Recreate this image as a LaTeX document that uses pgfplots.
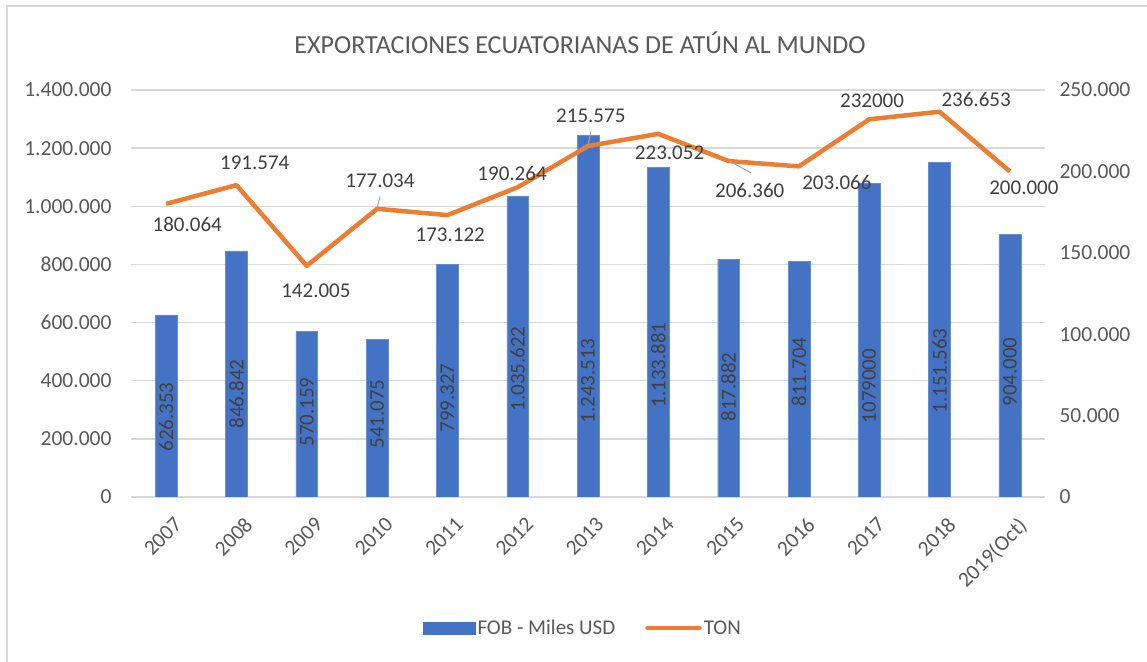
\documentclass[border=0pt]{standalone}
\usepackage{pgfplots}
\pgfplotsset{compat=1.18}
\usepackage{fontspec}
\setmainfont{Carlito}

\definecolor{fob}{HTML}{4472C4}
\definecolor{ton}{HTML}{ED7D31}
\definecolor{txtgray}{HTML}{595959}
\definecolor{lblgray}{HTML}{404040}
\definecolor{gridgray}{HTML}{D9D9D9}

% common frame of both axes, 1pt = 1px of the reference
\pgfplotsset{
  frame/.style={
    at={(131pt,164pt)}, anchor=south west,
    scale only axis, width=914pt, height=407pt,
    xmin=-0.5, xmax=12.5,
    major tick length=0pt,
    tick label style={font=\fontsize{21.5}{25}\selectfont, text=txtgray},
    /pgf/number format/assume math mode=true,
    scaled y ticks=false,
    /pgf/number format/fixed,
    /pgf/number format/precision=0,
    /pgf/number format/1000 sep={.},
  },
}

\begin{document}
\begin{tikzpicture}
\begin{axis}[
  frame,
  ymin=0, ymax=1400000,
  ytick={0,200000,400000,600000,800000,1000000,1200000,1400000},
  xtick={0,1,2,3,4,5,6,7,8,9,10,11,12},
  xticklabels={2007,2008,2009,2010,2011,2012,2013,2014,2015,2016,2017,2018,2019(Oct)},
  x tick label style={rotate=45, anchor=north east, yshift=-15pt, xshift=-5pt},
  y tick label style={xshift=-16pt},
  axis line style={draw=none},
  ymajorgrids, grid style={gridgray, line width=1.3pt},
]
% FOB - Miles USD
\addplot[ybar, bar width=0.31, fill=fob, draw=fob!80!white] coordinates {
  (0,626353) (1,846842) (2,570159) (3,541075) (4,799327) (5,1035622)
  (6,1243513) (7,1133881) (8,817882) (9,811704) (10,1079000) (11,1151563)
  (12,904000)};
% bar labels (position, text)
\addplot[draw=none, mark=none, nodes near coords, point meta=explicit symbolic,
  nodes near coords style={rotate=90, anchor=center, text=lblgray,
    font=\fontsize{21}{25}\selectfont}]
  table[meta=lbl] {
x y lbl
0 275200 626.353
1 354300 846.842
2 292400 570.159
3 285500 541.075
4 340500 799.327
5 440300 1.035.622
6 399000 1.243.513
7 454100 1.133.881
8 378400 817.882
9 430000 811.704
10 381800 1079000
11 433400 1.151.563
12 430000 904.000
};
\end{axis}

\begin{axis}[
  frame,
  ymin=0, ymax=250000,
  ytick={0,50000,100000,150000,200000,250000},
  axis y line*=right, axis x line=none,
  axis line style={draw=none},
  y tick label style={xshift=11pt},
  legend columns=2,
  legend style={at={(0.4945,-0.322)}, anchor=center, draw=none, fill=none,
    font=\fontsize{21}{25}\selectfont, text=txtgray,
    /tikz/every even column/.append style={column sep=28pt}},
]
\addlegendimage{area legend, legend image code/.code={
  \fill[fob] (0pt,-6pt) rectangle (52pt,6pt);}}
\addlegendentry{FOB - Miles USD}
% TON
\addplot[ton, line width=4.5pt, line join=round, mark=none,
  legend image code/.code={
  \draw[ton, line width=4.5pt, line cap=round] (0pt,0pt) -- (52pt,0pt);}]
  coordinates {
  (0,180064) (1,191574) (2,142005) (3,177034) (4,173122) (5,190264)
  (6,215575) (7,223052) (8,206360) (9,203066) (10,232000) (11,236653)
  (12,200000)};
\addlegendentry{TON}
% leader lines
\addplot[gray!70, line width=1pt, forget plot] coordinates {(3.04,184300) (3.00,177500)};
\addplot[gray!70, line width=1pt, forget plot] coordinates {(6.04,224400) (6.00,216200)};
\addplot[gray!70, line width=1pt, forget plot] coordinates {(8.01,206400) (8.32,199000)};
% line labels (position, text)
\addplot[draw=none, mark=none, forget plot, nodes near coords, point meta=explicit symbolic,
  nodes near coords style={anchor=center, text=lblgray,
    font=\fontsize{21}{25}\selectfont}]
  table[meta=lbl] {
x y lbl
0.30 167700 180.064
1.26 205200 191.574
2.13 126500 142.005
3.04 194100 177.034
4.04 160900 173.122
4.92 199000 190.264
6.04 234000 215.575
7.16 211300 223.052
8.30 188000 206.360
9.54 192900 203.066
10.04 243200 232000
11.52 243900 236.653
12.20 189800 200.000
};
\end{axis}

\node[text=txtgray, font=\fontsize{26}{30}\selectfont] at (580pt,618pt)
  {EXPORTACIONES ECUATORIANAS DE ATÚN AL MUNDO};
\draw[gridgray, line width=2pt] (7pt,-20pt) rectangle (1180pt,655pt);
\pgfresetboundingbox
\path[use as bounding box] (0pt,0pt) rectangle (1147pt,661pt);
\end{tikzpicture}
\end{document}
